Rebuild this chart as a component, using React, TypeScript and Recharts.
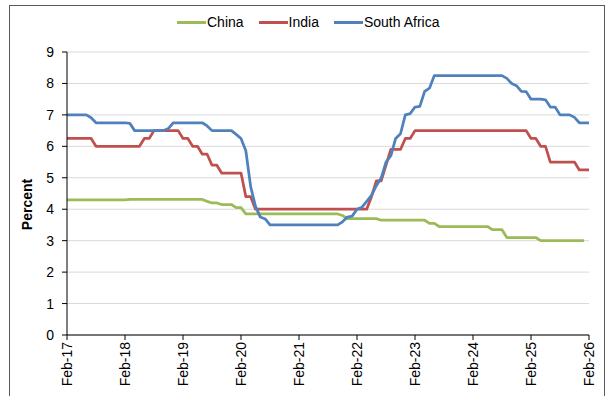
import React from 'react';
import { LineChart, Line, XAxis, YAxis, CartesianGrid, Legend, Label } from 'recharts';

// Policy rates, monthly, Feb-2017 .. Feb-2026 (109 observations)
const MONTH_NAMES = ['Jan', 'Feb', 'Mar', 'Apr', 'May', 'Jun', 'Jul', 'Aug', 'Sep', 'Oct', 'Nov', 'Dec'];
const FIRST_YEAR = 2017;
const FIRST_MONTH = 1; // Feb
const MONTH_COUNT = 109;

const months: string[] = Array.from({ length: MONTH_COUNT }, (_, i) => {
  const m = (FIRST_MONTH + i) % 12;
  const y = FIRST_YEAR + Math.floor((FIRST_MONTH + i) / 12);
  return `${MONTH_NAMES[m]}-${String(y % 100).padStart(2, '0')}`;
});

const yearTicks = ['Feb-17', 'Feb-18', 'Feb-19', 'Feb-20', 'Feb-21', 'Feb-22', 'Feb-23', 'Feb-24', 'Feb-25', 'Feb-26'];
const percentTicks = [0, 1, 2, 3, 4, 5, 6, 7, 8, 9];

const china: (number | null)[] = [
  4.30, 4.30, 4.30, 4.30, 4.30, 4.30, 4.30, 4.30, 4.30, 4.30, 4.30, 4.30, 4.30,
  4.31, 4.31, 4.31, 4.31, 4.31, 4.31, 4.31, 4.31, 4.31, 4.31, 4.31, 4.31, 4.31, 4.31, 4.31, 4.31,
  4.25, 4.20, 4.20, 4.15, 4.15, 4.15, 4.05, 4.05,
  3.85, 3.85, 3.85, 3.85, 3.85, 3.85, 3.85, 3.85, 3.85, 3.85, 3.85, 3.85, 3.85, 3.85, 3.85, 3.85, 3.85, 3.85, 3.85, 3.85,
  3.80,
  3.70, 3.70, 3.70, 3.70, 3.70, 3.70, 3.70,
  3.65, 3.65, 3.65, 3.65, 3.65, 3.65, 3.65, 3.65, 3.65, 3.65,
  3.55, 3.55,
  3.45, 3.45, 3.45, 3.45, 3.45, 3.45, 3.45, 3.45, 3.45, 3.45, 3.45,
  3.35, 3.35, 3.35,
  3.10, 3.10, 3.10, 3.10, 3.10, 3.10, 3.10,
  3.00, 3.00, 3.00, 3.00, 3.00, 3.00, 3.00, 3.00, 3.00, 3.00,
  null,
];

const india: number[] = [
  6.25, 6.25, 6.25, 6.25, 6.25, 6.25,
  6.00, 6.00, 6.00, 6.00, 6.00, 6.00, 6.00, 6.00, 6.00, 6.00,
  6.25, 6.25,
  6.50, 6.50, 6.50, 6.50, 6.50, 6.50,
  6.25, 6.25,
  6.00, 6.00,
  5.75, 5.75,
  5.40, 5.40,
  5.15, 5.15, 5.15, 5.15, 5.15,
  4.40, 4.40,
  4.00, 4.00, 4.00, 4.00, 4.00, 4.00, 4.00, 4.00, 4.00, 4.00, 4.00, 4.00,
  4.00, 4.00, 4.00, 4.00, 4.00, 4.00, 4.00, 4.00, 4.00, 4.00, 4.00, 4.00,
  4.40,
  4.90, 4.90,
  5.40,
  5.90, 5.90, 5.90,
  6.25, 6.25,
  6.50, 6.50, 6.50, 6.50, 6.50, 6.50, 6.50, 6.50, 6.50, 6.50, 6.50, 6.50,
  6.50, 6.50, 6.50, 6.50, 6.50, 6.50, 6.50, 6.50, 6.50, 6.50, 6.50, 6.50,
  6.25, 6.25,
  6.00, 6.00,
  5.50, 5.50, 5.50, 5.50, 5.50, 5.50,
  5.25, 5.25, 5.25,
];

const southAfrica: number[] = [
  7.00, 7.00, 7.00, 7.00, 7.00,
  6.91,
  6.75, 6.75, 6.75, 6.75, 6.75, 6.75, 6.75,
  6.73,
  6.50, 6.50, 6.50, 6.50, 6.50, 6.50, 6.50,
  6.57,
  6.75, 6.75, 6.75, 6.75, 6.75, 6.75, 6.75,
  6.65,
  6.50, 6.50, 6.50, 6.50, 6.50,
  6.38, 6.25, 5.86, 4.72, 4.09, 3.75, 3.69,
  3.50, 3.50, 3.50, 3.50, 3.50, 3.50, 3.50, 3.50, 3.50, 3.50, 3.50, 3.50, 3.50, 3.50, 3.50,
  3.60, 3.75, 3.78, 4.00, 4.06, 4.25, 4.44, 4.75, 4.99, 5.50, 5.70, 6.25, 6.40, 7.00, 7.04, 7.25, 7.27, 7.75, 7.85,
  8.25, 8.25, 8.25, 8.25, 8.25, 8.25, 8.25, 8.25, 8.25, 8.25, 8.25, 8.25, 8.25, 8.25, 8.25,
  8.16, 8.00, 7.93, 7.75, 7.74,
  7.50, 7.50, 7.50,
  7.48, 7.25, 7.25,
  7.00, 7.00, 7.00,
  6.92,
  6.75, 6.75, 6.75,
];

const rows = months.map((month, i) => ({
  month,
  China: china[i],
  India: india[i],
  'South Africa': southAfrica[i],
}));

const FONT = '"Liberation Sans", Arial, Helvetica, sans-serif';
const COLORS = { China: '#9BBB59', India: '#C0504D', 'South Africa': '#4F81BD' };

const MonthTick = (props: any) => {
  const { x, y, payload } = props;
  return (
    <text
      x={0}
      y={0}
      transform={`translate(${x},${y}) rotate(-90)`}
      textAnchor="end"
      dy="0.36em"
      fontSize={14}
      fontFamily={FONT}
      fill="#000"
    >
      {payload.value}
    </text>
  );
};

const LegendRow = (props: any) => {
  const items = props.payload || [];
  return (
    <div style={{ height: 40, display: 'flex', alignItems: 'flex-start', paddingLeft: 177, fontFamily: FONT, fontSize: 14, color: '#000' }}>
      {items.map((it: any) => (
        <div key={it.value} style={{ display: 'flex', alignItems: 'center', height: 20, marginRight: 15 }}>
          <span style={{ display: 'inline-block', width: 29, height: 3, background: it.color, marginRight: 1 }} />
          <span style={{ lineHeight: '20px' }}>{it.value}</span>
        </div>
      ))}
    </div>
  );
};

const PercentLabel = (props: any) => {
  const vb = props.viewBox || { x: 0, y: 52, width: 67, height: 283 };
  const cx = vb.x + 27;
  const cy = vb.y + vb.height / 2 + 11;
  return (
    <text
      x={cx}
      y={cy}
      transform={`rotate(-90 ${cx} ${cy})`}
      textAnchor="middle"
      dominantBaseline="central"
      fontSize={14}
      fontWeight="bold"
      fontFamily={FONT}
      fill="#000"
    >
      Percent
    </text>
  );
};

export default function App() {
  return (
    <div style={{ position: 'absolute', left: 0, top: 0, width: 609, height: 396, overflow: 'hidden', background: '#fff' }}>
      <LineChart
        width={609}
        height={396}
        data={rows}
        margin={{ top: 12, right: 20, bottom: 0, left: 0 }}
        style={{ fontFamily: FONT }}
      >
        <CartesianGrid vertical={false} stroke="#d9d9d9" strokeWidth={1} />
        <XAxis
          dataKey="month"
          type="category"
          ticks={yearTicks}
          interval={0}
          height={61}
          tickSize={5}
          tickMargin={2}
          tick={<MonthTick />}
          axisLine={{ stroke: '#000', strokeWidth: 1 }}
          tickLine={{ stroke: '#000', strokeWidth: 1 }}
        />
        <YAxis
          domain={[0, 9]}
          ticks={percentTicks}
          interval={0}
          width={67}
          tickSize={5}
          tickMargin={8}
          tick={{ fontSize: 14, fill: '#000', fontFamily: FONT }}
          axisLine={{ stroke: '#000', strokeWidth: 1 }}
          tickLine={{ stroke: '#000', strokeWidth: 1 }}
        >
          <Label content={<PercentLabel />} />
        </YAxis>
        <Legend verticalAlign="top" align="left" content={<LegendRow />} wrapperStyle={{ left: 0, width: 609 }} />
        <Line type="linear" dataKey="China" stroke={COLORS.China} strokeWidth={2.75} dot={false} isAnimationActive={false} strokeLinejoin="round" />
        <Line type="linear" dataKey="India" stroke={COLORS.India} strokeWidth={2.75} dot={false} isAnimationActive={false} strokeLinejoin="round" />
        <Line type="linear" dataKey="South Africa" stroke={COLORS['South Africa']} strokeWidth={2.75} dot={false} isAnimationActive={false} strokeLinejoin="round" />
      </LineChart>
      <div style={{ position: 'absolute', left: 9, top: 5, width: 594, height: 420, border: '1px solid #595959', pointerEvents: 'none' }} />
    </div>
  );
}
